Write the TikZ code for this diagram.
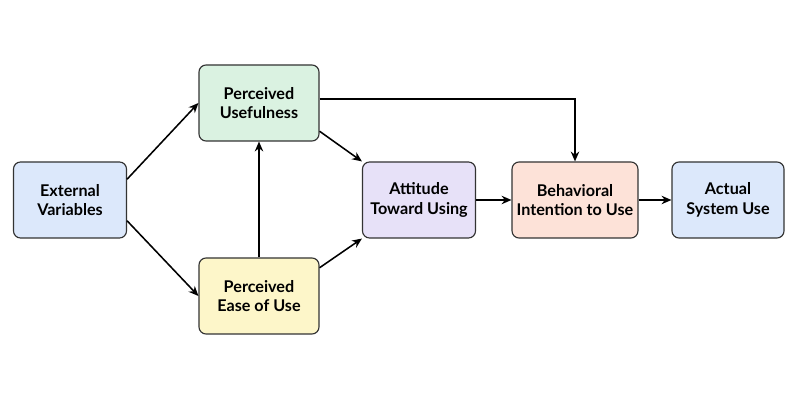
\documentclass[tikz,border=0pt]{standalone}
\usepackage{fontspec}
\setmainfont{Lato}
\usetikzlibrary{arrows.meta}
\definecolor{extfill}{HTML}{DCE8FB}
\definecolor{usefill}{HTML}{DAF2E1}
\definecolor{easefill}{HTML}{FDF6C9}
\definecolor{attfill}{HTML}{E7E1F8}
\definecolor{intfill}{HTML}{FDE2D8}
\begin{document}
\begin{tikzpicture}
        [box/.style={rounded corners=5pt, draw=black!80, thick, minimum height=1.9cm,
          align=center, font=\fontsize{11.5}{14}\selectfont\bfseries},
        link/.style={line width=1.1pt, black, -{Stealth[length=7pt,width=6pt]}}]

        \useasboundingbox (0,0) rectangle (20,-10);

        \node[box, fill=extfill, minimum width=2.825cm] (ext) at (1.75,-5) {External\\Variables};
        \node[box, fill=usefill, minimum width=3cm] (use) at (6.475,-2.575) {Perceived\\Usefulness};
        \node[box, fill=easefill, minimum width=3cm] (ease) at (6.475,-7.4) {Perceived\\Ease of Use};
        \node[box, fill=attfill, minimum width=2.825cm] (att) at (10.475,-5) {Attitude\\Toward Using};
        \node[box, fill=intfill, minimum width=2.925cm] (int) at (14.375,-5) {Behavioral\\Intention to Use};
        \node[box, fill=extfill, minimum width=2.8cm] (act) at (18.2,-5) {Actual\\System Use};

        % external variables to beliefs
        \draw[link] (ext.20) -- (use.west);
        \draw[link] (ext.-20) -- (ease.west);
        \draw[link] (ease) -- (use);
        % beliefs to attitude
        \draw[link] (use.-25) -- (att.north west);
        \draw[link] (ease.25) -- (att.south west);
        % attitude to use
        \draw[link] (att) -- (int);
        \draw[link] (int) -- (act);
        \draw[link] (use.east |- 0,-2.475) -| (int.north);

\end{tikzpicture}
\end{document}
